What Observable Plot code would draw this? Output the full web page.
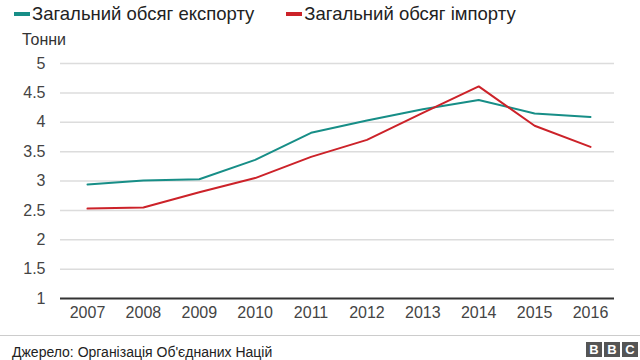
<!DOCTYPE html>
<html><head><meta charset="utf-8">
<script src="https://cdn.jsdelivr.net/npm/d3@7"></script>
<script src="https://cdn.jsdelivr.net/npm/@observablehq/plot@0.6"></script>
<style>
body{margin:0;background:#fff;font-family:"Liberation Sans",Arial,sans-serif;}
#wrap{position:relative;width:640px;height:360px;overflow:hidden;background:#fff;}
#legend{position:absolute;left:14px;top:3px;font-size:18.5px;color:#222;white-space:nowrap;display:flex;}
.item{display:inline-flex;align-items:center;}
.item + .item{margin-left:32px;}
.sw{display:inline-block;width:16px;height:4px;margin-right:2px;}
#unit{position:absolute;left:22px;top:31px;font-size:16px;color:#333;}
#chart{position:absolute;left:0;top:50px;}
#rule{position:absolute;left:0;top:335px;width:640px;height:1px;background:#ccc;}
#source{position:absolute;left:12px;top:344px;font-size:14px;color:#222;}
#bbc{position:absolute;right:2px;top:342px;display:flex;gap:2px;}
#bbc span{width:16px;height:15px;background:#555;color:#fff;font-weight:bold;font-size:13px;line-height:15px;text-align:center;}
</style>
</head><body>
<div id="wrap">
  <div id="legend"></div>
  <div id="unit">Тонни</div>
  <div id="chart"></div>
  <div id="rule"></div>
  <div id="source">Джерело: Організація Об'єднаних Націй</div>
  <div id="bbc"><span>B</span><span>B</span><span>C</span></div>
</div>
<script>
const years = [2007, 2008, 2009, 2010, 2011, 2012, 2013, 2014, 2015, 2016];
const exportValues = [2.94, 3.01, 3.03, 3.36, 3.82, 4.03, 4.22, 4.38, 4.15, 4.09];
const importValues = [2.53, 2.55, 2.81, 3.05, 3.41, 3.70, 4.16, 4.61, 3.94, 3.58];
const seriesNames = ["Загальний обсяг експорту", "Загальний обсяг імпорту"];
const seriesColors = ["#178e87", "#cc2229"];
const yTicks = [1, 1.5, 2, 2.5, 3, 3.5, 4, 4.5, 5];

const rows = [];
years.forEach((y, i) => {
  rows.push({year: y, value: exportValues[i], series: seriesNames[0]});
  rows.push({year: y, value: importValues[i], series: seriesNames[1]});
});

const legend = document.getElementById("legend");
seriesNames.forEach((n, i) => {
  const it = document.createElement("span");
  it.className = "item";
  it.innerHTML = `<span class="sw" style="background:${seriesColors[i]}"></span>${n}`;
  legend.appendChild(it);
});

const chart = Plot.plot({
  width: 640,
  height: 278,
  marginLeft: 60,
  marginRight: 26,
  marginTop: 13,
  marginBottom: 30,
  x: {type: "linear", domain: [2007, 2016], insetLeft: 27, insetRight: 24},
  y: {domain: [1, 5]},
  color: {domain: seriesNames, range: seriesColors},
  style: {fontSize: "16px", fontFamily: "'Liberation Sans', Arial, sans-serif", color: "#444", background: "#fff"},
  marks: [
    Plot.ruleY(yTicks.filter(d => d > 1), {stroke: "#dcdcdc", strokeWidth: 1.5}),
    Plot.ruleY([1], {stroke: "#333", strokeWidth: 2}),
    Plot.axisY({ticks: yTicks, tickSize: 0, tickPadding: 15, tickFormat: d => String(d), label: null}),
    Plot.axisX({ticks: years, tickSize: 0, tickPadding: 8, tickFormat: d => String(d), label: null}),
    Plot.line(rows, {x: "year", y: "value", z: "series", stroke: "series", strokeWidth: 2})
  ]
});
document.getElementById("chart").appendChild(chart);
</script>
</body></html>
